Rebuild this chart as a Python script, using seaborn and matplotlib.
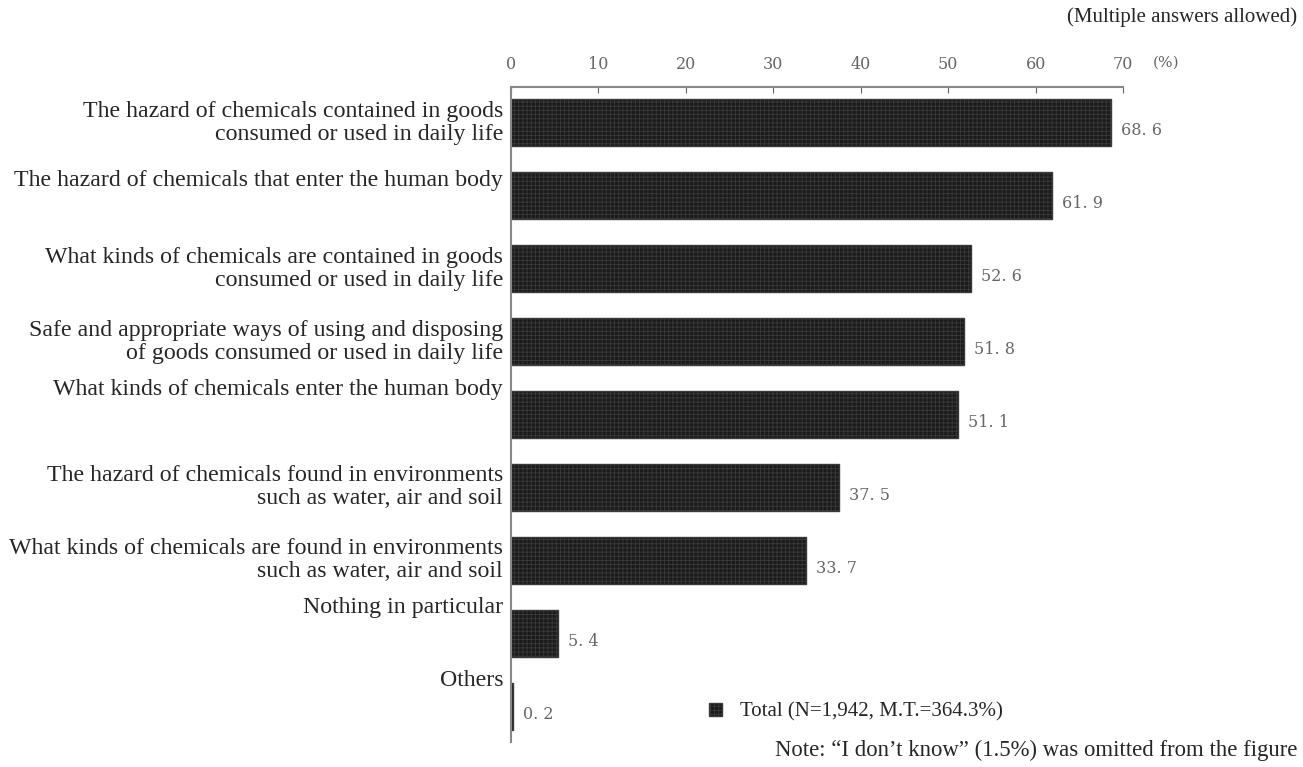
import numpy as np
import pandas as pd
import seaborn as sns
from matplotlib import pyplot as plt


## DADOS

itens = ['The hazard of chemicals contained in goods\nconsumed or used in daily life',
         'The hazard of chemicals that enter the human body',
         'What kinds of chemicals are contained in goods\nconsumed or used in daily life',
         'Safe and appropriate ways of using and disposing\nof goods consumed or used in daily life',
         'What kinds of chemicals enter the human body',
         'The hazard of chemicals found in environments\nsuch as water, air and soil',
         'What kinds of chemicals are found in environments\nsuch as water, air and soil',
         'Nothing in particular',
         'Others']
percentual = [68.6, 61.9, 52.6, 51.8, 51.1, 37.5, 33.7, 5.4, 0.2]
ticks_x = [0, 10, 20, 30, 40, 50, 60, 70]
legenda = 'Total (N=1,942, M.T.=364.3%)'
titulo = '(Multiple answers allowed)'
nota = 'Note: \u201cI don\u2019t know\u201d (1.5%) was omitted from the figure'

# deslocamento vertical (px) dos rotulos de uma linha so
desloc_rotulo = [0, 15, 0, 0, 25, 0, 0, 26, 26]


## ESTILO

sns.set_style('white')
plt.rcParams['font.family'] = ['Liberation Serif', 'DejaVu Serif']
plt.rcParams['hatch.linewidth'] = 0.6

fig = plt.figure(figsize=(13.03, 7.67), dpi=100)
ax = fig.add_axes([511/1303, 1-742/767, (1123-511)/1303, (742-87)/767])

df = pd.DataFrame({'item': itens, 'pct': percentual})
sns.barplot(data=df, x='pct', y='item', orient='h', color='#1b1b1b', saturation=1,
            width=0.64, edgecolor='#3a3a3a', linewidth=1.0, hatch='++++',
            label=legenda, ax=ax)

ax.set_xlim(0, 70)
ax.set_ylim(8.49, -0.49)
ax.set_xlabel('')
ax.set_ylabel('')

ax.xaxis.tick_top()
ax.set_xticks(ticks_x)
ax.tick_params(axis='x', direction='in', length=4, pad=10, colors='#666',
               labelsize=11.5, labelfontfamily='DejaVu Serif')
ax.set_yticks(range(len(itens)))
ax.set_yticklabels([])
ax.tick_params(axis='y', length=0)

for s in ['right', 'bottom']:
    ax.spines[s].set_visible(False)
for s in ['top', 'left']:
    ax.spines[s].set_color('#888888')
    ax.spines[s].set_linewidth(1.5)


## ROTULOS

for i, (txt, dy) in enumerate(zip(itens, desloc_rotulo)):
    ax.annotate(txt, xy=(0, i), xycoords=('axes fraction', 'data'),
                xytext=(-8, dy), textcoords='offset pixels',
                ha='right', va='center', fontsize=17.2, linespacing=1.13)

for i, v in enumerate(percentual):
    ax.annotate(f'{v:.1f}'.replace('.', '. '), xy=(v, i), xytext=(10, -8),
                textcoords='offset pixels', ha='left', va='center',
                fontsize=11.5, color='#666', family='DejaVu Serif')

ax.annotate('(%)', xy=(1, 1), xycoords='axes fraction', xytext=(43, 24),
            textcoords='offset pixels', ha='center', va='center',
            fontsize=11, color='#666', family='DejaVu Serif')

fig.text(1297/1303, 1-17/767, titulo, ha='right', va='center', fontsize=15)
fig.text(1297/1303, 1-750/767, nota, ha='right', va='center', fontsize=16.4)

ax.legend(loc='center left', bbox_to_anchor=(709/1303, 1-712/767),
          bbox_transform=fig.transFigure, frameon=False, borderpad=0,
          borderaxespad=0, handlelength=0.6, handleheight=0.6,
          handletextpad=0.9, fontsize=15)


## SALVANDO

fig.savefig('out.png', dpi=100)
